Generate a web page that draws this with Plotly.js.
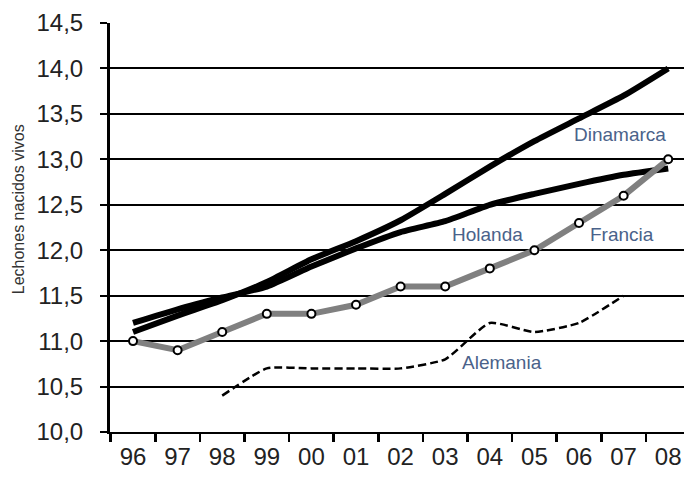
<!DOCTYPE html>
<html>
<head>
<meta charset="utf-8">
<script src="https://cdn.plot.ly/plotly-3.0.1.min.js"></script>
<style>html,body{margin:0;padding:0;background:#fff}#chart{width:684px;height:482px}</style>
</head>
<body>
<div id="chart"></div>
<script>
const years = ['96','97','98','99','00','01','02','03','04','05','06','07','08'];
const dinamarca = [11.1, 11.28, 11.45, 11.65, 11.9, 12.1, 12.33, 12.62, 12.92, 13.2, 13.45, 13.7, 14.0];
const holanda   = [11.2, 11.35, 11.48, 11.6, 11.82, 12.02, 12.2, 12.32, 12.5, 12.62, 12.73, 12.83, 12.9];
const francia   = [11.0, 10.9, 11.1, 11.3, 11.3, 11.4, 11.6, 11.6, 11.8, 12.0, 12.3, 12.6, 13.0];
const alemania  = [null, null, 10.4, 10.7, 10.7, 10.7, 10.7, 10.8, 11.2, 11.1, 11.2, 11.5, null];
const yTickVals = [10.0, 10.5, 11.0, 11.5, 12.0, 12.5, 13.0, 13.5, 14.0, 14.5];
const yTickText = ['10,0','10,5','11,0','11,5','12,0','12,5','13,0','13,5','14,0','14,5'];
const seriesNames = ['Dinamarca', 'Holanda', 'Francia', 'Alemania'];
const yTitle = 'Lechones nacidos vivos';

// label anchor positions (layout only): x in category-index units, y in data units
const labelPos = [[10.92, 13.27], [7.94, 12.17], [10.97, 12.17], [8.28, 10.77]];

const traces = [
  {x: years, y: alemania, type: 'scatter', mode: 'lines', name: seriesNames[3],
   line: {color: '#000', width: 2.5, dash: '8px,4px', shape: 'spline', smoothing: 0.5}},
  {x: years, y: holanda, type: 'scatter', mode: 'lines', name: seriesNames[1],
   line: {color: '#000', width: 6, shape: 'spline', smoothing: 0.5}},
  {x: years, y: dinamarca, type: 'scatter', mode: 'lines', name: seriesNames[0],
   line: {color: '#000', width: 6, shape: 'spline', smoothing: 0.5}},
  {x: years, y: francia, type: 'scatter', mode: 'lines+markers', name: seriesNames[2],
   line: {color: '#808080', width: 6},
   marker: {symbol: 'circle', size: 8, color: '#fff', line: {color: '#000', width: 2}}}
];

const annotations = seriesNames.map((n, i) => ({
  x: labelPos[i][0], y: labelPos[i][1], xref: 'x', yref: 'y', text: n, showarrow: false,
  xanchor: 'center', yanchor: 'middle',
  font: {size: 19, color: '#4a628a', family: 'Liberation Sans, Arial, sans-serif'}
}));
annotations.push({
  x: -0.16, y: 0.545, xref: 'paper', yref: 'paper', text: yTitle, showarrow: false,
  xanchor: 'center', yanchor: 'middle',
  textangle: -90, font: {size: 16, color: '#333', family: 'Liberation Sans, Arial, sans-serif'}
});

const layout = {
  width: 684, height: 482,
  margin: {l: 110, r: 0, t: 23, b: 50},
  paper_bgcolor: '#fff', plot_bgcolor: '#fff',
  showlegend: false,
  font: {family: 'Liberation Sans, Arial, sans-serif', color: '#222'},
  xaxis: {
    type: 'category', categoryorder: 'array', categoryarray: years,
    range: [-0.516, 12.354],
    showgrid: false, zeroline: false,
    showline: true, linecolor: '#000', linewidth: 2,
    ticks: 'outside', tickson: 'boundaries', ticklen: 8, tickwidth: 2.5, tickcolor: '#000',
    tickfont: {size: 24, color: '#222'}, ticklabelstandoff: 2
  },
  yaxis: {
    range: [10, 14.5],
    tickvals: yTickVals, ticktext: yTickText,
    showgrid: true, gridcolor: '#000', gridwidth: 2, zeroline: false,
    showline: true, linecolor: '#000', linewidth: 3,
    ticks: 'outside', ticklen: 7, tickwidth: 2, tickcolor: '#000',
    tickfont: {size: 24, color: '#222'}, ticklabelstandoff: 12
  },
  annotations: annotations
};

Plotly.newPlot('chart', traces, layout, {displayModeBar: false, staticPlot: true});
</script>
</body>
</html>
